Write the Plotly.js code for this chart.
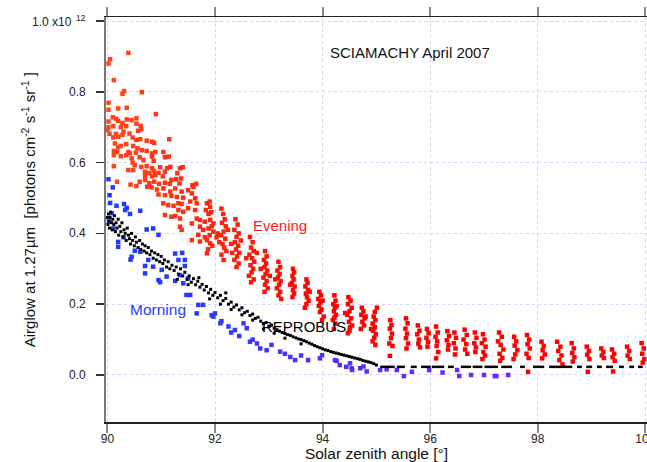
<!DOCTYPE html>
<html>
<head>
<meta charset="utf-8">
<script src="https://cdn.plot.ly/plotly-3.0.1.min.js"></script>
<style>html,body{margin:0;padding:0;background:#fff;}#chart{width:647px;height:462px;}</style>
</head>
<body>
<div id="chart"></div>
<script>
// Evening (red) observations: [solar zenith angle, airglow (x1e12)]
const eveningPoints = [
[90.39,0.910],[90.05,0.892],[90.02,0.880],[90.12,0.833],[90.31,0.802],[90.28,0.794],[90.64,0.799],[90.02,0.769],[90.02,0.749],[90.20,0.753],
[90.36,0.755],[90.90,0.737],[90.10,0.728],[90.16,0.724],[90.20,0.718],[90.02,0.716],[90.28,0.712],[90.36,0.722],[90.45,0.720],[90.54,0.725],
[90.02,0.700],[90.11,0.703],[90.25,0.700],[90.35,0.703],[90.54,0.710],[90.62,0.703],[90.00,0.692],[90.04,0.681],[90.16,0.681],[90.30,0.687],
[90.41,0.682],[90.57,0.690],[90.63,0.694],[90.11,0.671],[90.20,0.673],[90.28,0.678],[90.47,0.671],[90.54,0.664],[90.61,0.666],[90.73,0.662],
[90.83,0.659],[90.87,0.656],[91.15,0.666],[90.14,0.654],[90.20,0.643],[90.25,0.647],[90.35,0.652],[90.48,0.647],[90.56,0.640],[90.64,0.635],
[90.12,0.633],[90.18,0.630],[90.39,0.630],[90.42,0.626],[90.53,0.628],[90.73,0.633],[90.83,0.626],[90.89,0.630],[91.04,0.630],[90.12,0.621],
[90.25,0.618],[90.35,0.621],[90.45,0.612],[90.60,0.615],[90.83,0.617],[91.07,0.615],[91.14,0.617],[90.47,0.600],[90.67,0.607],[90.86,0.605],
[90.51,0.593],[90.63,0.588],[90.12,0.590],[90.39,0.579],[90.48,0.579],[90.73,0.590],[90.83,0.584],[90.98,0.587],[91.11,0.584],[91.17,0.588],
[91.35,0.584],[91.40,0.587],[90.70,0.574],[90.78,0.570],[90.86,0.577],[90.95,0.571],[91.07,0.574],[90.70,0.563],[90.83,0.561],[90.89,0.565],
[91.03,0.561],[91.30,0.570],[90.18,0.546],[90.43,0.538],[90.60,0.546],[90.70,0.551],[90.78,0.542],[90.87,0.546],[90.96,0.540],[91.07,0.543],
[91.16,0.540],[91.28,0.553],[91.37,0.555],[91.58,0.536],[91.65,0.540],[90.74,0.532],[91.19,0.551],[91.34,0.541],[90.54,0.534],[90.82,0.530],
[90.92,0.524],[91.04,0.527],[91.17,0.518],[91.26,0.527],[91.38,0.518],[90.95,0.510],[91.07,0.508],[91.19,0.506],[91.29,0.503],[91.41,0.501],
[91.50,0.522],[91.60,0.531],[91.57,0.513],[91.63,0.499],[91.04,0.485],[91.13,0.480],[91.23,0.478],[91.32,0.485],[91.38,0.483],[91.54,0.490],
[91.66,0.485],[91.32,0.466],[91.41,0.461],[91.50,0.471],[91.63,0.466],[91.85,0.485],[91.91,0.475],[91.83,0.466],[91.07,0.452],[91.19,0.447],
[91.26,0.449],[91.35,0.442],[91.35,0.419],[91.38,0.410],[91.57,0.428],[91.66,0.442],[91.72,0.438],[91.81,0.433],[91.91,0.438],[91.97,0.428],
[91.72,0.419],[91.78,0.410],[91.88,0.414],[91.97,0.405],[91.57,0.381],[91.69,0.396],[91.81,0.389],[91.72,0.377],[91.85,0.381],[91.91,0.372],
[92.03,0.389],[91.85,0.344],
[91.90,0.490],[91.93,0.460],[91.88,0.455],[91.94,0.420],[91.90,0.395],[91.95,0.365],[91.87,0.355],
[92.12,0.470],[92.15,0.455],[92.18,0.440],[92.13,0.430],[92.20,0.420],[92.16,0.405],[92.11,0.395],[92.19,0.385],[92.14,0.370],[92.17,0.360],
[92.21,0.350],[92.12,0.340],[92.16,0.325],[92.05,0.400],[92.08,0.375],[92.24,0.410],
[92.38,0.440],[92.42,0.425],[92.36,0.410],[92.44,0.400],[92.40,0.390],[92.37,0.375],[92.43,0.365],[92.39,0.355],[92.45,0.345],[92.41,0.335],
[92.36,0.325],[92.44,0.315],[92.40,0.305],[92.30,0.370],[92.48,0.380],[92.32,0.345],
[92.65,0.390],[92.70,0.375],[92.67,0.360],[92.72,0.350],[92.64,0.340],[92.69,0.330],[92.73,0.320],[92.66,0.310],[92.71,0.300],[92.68,0.290],
[92.63,0.280],[92.72,0.270],[92.67,0.262],[92.58,0.330],[92.78,0.345],
[92.93,0.350],[92.96,0.335],[92.91,0.325],[92.95,0.315],[92.92,0.305],[92.97,0.295],[92.94,0.285],[92.90,0.275],[92.96,0.265],[92.93,0.255],
[92.98,0.245],[92.92,0.235],[92.85,0.300],[93.02,0.280],
[93.18,0.320],[93.21,0.305],[93.16,0.295],[93.20,0.285],[93.17,0.275],[93.22,0.265],[93.19,0.255],[93.15,0.245],[93.21,0.235],[93.18,0.225],
[93.23,0.215],[93.12,0.270],
[93.45,0.300],[93.47,0.290],[93.44,0.280],[93.46,0.270],[93.43,0.260],[93.48,0.250],[93.45,0.240],[93.47,0.230],[93.44,0.220],[93.40,0.255],
[93.70,0.270],[93.72,0.260],[93.68,0.250],[93.73,0.240],[93.69,0.230],[93.71,0.220],[93.74,0.210],[93.70,0.200],[93.67,0.190],[93.76,0.235],
[93.94,0.235],[93.97,0.225],[93.92,0.215],[93.96,0.205],[93.93,0.195],[93.98,0.185],[93.95,0.178],[94.00,0.210],[94.02,0.165],[93.99,0.155],
[94.22,0.225],[94.24,0.210],[94.20,0.200],[94.23,0.190],[94.21,0.180],[94.25,0.170],[94.22,0.162],[94.19,0.155],[94.26,0.195],[94.24,0.145],[94.21,0.130],
[94.48,0.220],[94.52,0.210],[94.47,0.200],[94.54,0.190],[94.50,0.180],[94.46,0.170],[94.53,0.160],[94.49,0.150],[94.55,0.140],[94.51,0.135],
[94.42,0.175],[94.50,0.125],[94.47,0.118],
[94.73,0.190],[94.76,0.180],[94.72,0.170],[94.78,0.160],[94.74,0.150],[94.77,0.140],[94.71,0.130],[94.80,0.165],
[94.95,0.165],[94.98,0.155],[94.93,0.145],[94.97,0.135],[94.94,0.125],[94.99,0.115],[94.96,0.105],[94.93,0.095],[94.98,0.085],[94.90,0.130],
[95.01,0.190],[94.97,0.178],
[95.26,0.155],[95.28,0.141],[95.25,0.131],[95.29,0.117],[95.27,0.104],[95.24,0.089],[95.30,0.082],[95.25,0.054],
[95.55,0.160],[95.58,0.146],[95.54,0.131],[95.57,0.117],[95.55,0.104],[95.59,0.089],[95.56,0.075],
[95.77,0.140],[95.80,0.125],[95.76,0.115],[95.79,0.100],[95.78,0.088],[95.81,0.078],
[95.94,0.130],[95.97,0.118],[95.93,0.105],[95.96,0.093],[95.95,0.080],
[96.11,0.137],[96.14,0.120],[96.10,0.108],[96.13,0.095],[96.12,0.082],[96.15,0.065],[96.11,0.047],
[96.32,0.124],[96.35,0.110],[96.31,0.098],[96.34,0.085],[96.33,0.072],
[96.45,0.120],[96.48,0.105],[96.44,0.090],[96.47,0.075],[96.46,0.058],
[96.64,0.128],[96.68,0.113],[96.62,0.100],[96.67,0.087],[96.65,0.072],[96.69,0.060],
[96.83,0.120],[96.86,0.105],[96.82,0.090],[96.85,0.078],[96.84,0.065],
[96.98,0.115],[97.01,0.100],[96.96,0.090],[97.03,0.080],[96.99,0.065],[97.02,0.055],[96.97,0.045],
[97.28,0.120],[97.33,0.108],[97.26,0.095],[97.31,0.085],[97.36,0.072],[97.29,0.060],[97.34,0.048],[97.30,0.040],
[97.56,0.108],[97.60,0.095],[97.57,0.083],[97.62,0.070],[97.58,0.058],[97.55,0.045],
[97.80,0.113],[97.84,0.100],[97.81,0.087],[97.85,0.075],[97.79,0.060],[97.83,0.048],[97.82,0.009],
[98.07,0.094],[98.11,0.082],[98.09,0.070],[98.13,0.058],[98.08,0.047],
[98.36,0.094],[98.42,0.080],[98.38,0.068],[98.44,0.055],[98.40,0.042],[98.46,0.030],
[98.63,0.090],[98.67,0.075],[98.64,0.062],[98.68,0.050],[98.65,0.038],
[98.91,0.080],[98.95,0.068],[98.92,0.057],[98.96,0.045],[98.93,0.009],
[99.18,0.075],[99.22,0.065],[99.19,0.055],[99.23,0.048],
[99.38,0.072],[99.42,0.060],[99.39,0.050],[99.43,0.040],[99.40,0.010],
[99.66,0.080],[99.70,0.068],[99.67,0.055],[99.71,0.045],
[99.93,0.090],[99.97,0.075],[99.94,0.060],[99.98,0.045],[99.95,0.035]
];

// Morning (blue) observations
const morningPoints = [
[90.02,0.553],[90.10,0.530],[90.04,0.508],[90.05,0.486],[90.17,0.478],[90.31,0.483],[90.36,0.472],[90.08,0.457],[90.33,0.466],[90.42,0.455],
[90.03,0.433],[90.11,0.414],[90.61,0.464],[90.73,0.411],[90.85,0.414],[90.20,0.376],[90.30,0.389],[90.20,0.362],[90.51,0.351],[90.61,0.348],
[90.95,0.396],[90.45,0.334],[90.43,0.326],[90.76,0.325],[90.85,0.306],[90.70,0.308],[91.01,0.297],[90.70,0.287],[91.10,0.278],[90.95,0.268],
[90.98,0.262],[91.26,0.343],[91.32,0.325],[91.44,0.325],[91.26,0.266],[91.35,0.282],[91.44,0.308],[91.50,0.273],[91.41,0.259],[91.39,0.345],
[91.47,0.226],[91.54,0.226],[91.69,0.198],[91.66,0.174],[91.78,0.198],[91.94,0.169],[92.00,0.174],[91.97,0.165],[92.10,0.146],[92.12,0.152],
[92.25,0.137],[92.37,0.127],[92.30,0.120],[92.45,0.110],[92.53,0.146],[92.59,0.132],[92.65,0.094],[92.70,0.100],[92.78,0.089],[92.84,0.075],
[92.96,0.070],[93.05,0.085],[93.21,0.066],[93.30,0.060],[93.40,0.051],[93.49,0.042],[93.60,0.055],[93.73,0.042],[93.95,0.047],[93.99,0.056],
[94.23,0.042],[94.26,0.040],[94.32,0.028],[94.44,0.023],[94.51,0.033],[94.54,0.019],[94.55,0.014],[94.70,0.019],[94.76,0.024],[94.82,0.010],
[95.07,0.014],[95.19,0.016],[95.38,0.014],[95.51,-0.003],[95.66,0.009],[95.98,0.014],[96.23,0.007],[96.50,0.014],[96.54,-0.003],[96.76,0.000],
[97.00,0.000],[97.20,-0.003],[97.23,-0.003],[97.45,0.000]
];

// REPROBUS model (black) points
const reprobusPoints = [
[90.00,0.445],[90.01,0.425],[90.02,0.455],[90.03,0.435],[90.04,0.415],[90.05,0.445],[90.06,0.460],[90.08,0.430],[90.09,0.410],[90.10,0.440],
[90.12,0.425],[90.13,0.450],[90.15,0.405],[90.16,0.430],[90.18,0.415],[90.20,0.440],[90.21,0.395],[90.23,0.420],[90.25,0.405],[90.27,0.430],
[90.29,0.390],[90.31,0.410],[90.33,0.400],[90.35,0.380],[90.37,0.415],[90.39,0.395],[90.41,0.385],[90.43,0.370],[90.45,0.400],[90.47,0.380],
[90.50,0.365],[90.52,0.390],[90.54,0.375],[90.57,0.360],[90.60,0.380],[90.62,0.355],[90.65,0.370],[90.68,0.350],[90.70,0.365],[90.73,0.345],
[90.76,0.360],[90.79,0.340],[90.82,0.350],[90.85,0.330],[90.88,0.345],[90.91,0.325],[90.94,0.340],[90.97,0.320],[91.00,0.335],[91.03,0.315],
[91.06,0.325],[91.10,0.305],[91.13,0.320],[91.16,0.300],[91.20,0.310],[91.24,0.295],[91.28,0.305],[91.32,0.285],[91.36,0.300],[91.40,0.280],
[91.44,0.290],[91.48,0.270],[91.52,0.280],[91.56,0.262],[91.60,0.272],[91.64,0.255],[91.68,0.265],[91.72,0.248],[91.76,0.256],[91.80,0.240],
[91.84,0.250],[91.88,0.232],[91.92,0.242],[91.96,0.225],[92.00,0.233],[92.05,0.218],[92.10,0.225],[92.15,0.210],[92.20,0.216],[92.25,0.200],
[92.30,0.206],[92.35,0.192],[92.40,0.198],[92.45,0.184],[92.50,0.190],[92.55,0.176],[92.60,0.180],[92.65,0.168],[92.70,0.172],[92.75,0.160],
[92.80,0.163],[92.85,0.152],[92.90,0.145],[92.95,0.148],[93.00,0.138],[93.05,0.141],[93.10,0.132],[93.15,0.128],[93.20,0.124],[93.25,0.120],
[93.30,0.117],[93.35,0.114],[93.40,0.112],[93.45,0.108],[93.50,0.105],[93.55,0.102],[93.60,0.100],[93.65,0.097],[93.70,0.094],[93.75,0.090],
[93.80,0.087],[93.85,0.083],[93.90,0.080],[93.95,0.077],[94.00,0.074],[94.05,0.071],[94.10,0.069],[94.15,0.066],[94.20,0.064],[94.25,0.062],
[94.30,0.060],[94.35,0.058],[94.40,0.056],[94.45,0.054],[94.50,0.052],[94.55,0.050],[94.60,0.048],[94.65,0.046],[94.70,0.044],[94.75,0.041],
[94.80,0.039],[94.85,0.037],[94.90,0.035],[94.95,0.032],[95.00,0.028],
[91.30,0.270],[91.50,0.255],[91.90,0.215],[92.10,0.200],[92.30,0.185],[92.50,0.170],[92.70,0.155],[92.90,0.130],[93.10,0.118],[93.30,0.104],
[93.60,0.088],[92.20,0.232],[91.70,0.275]
];

// REPROBUS flat night-time segments (start, end) beyond 95 deg, value
const reprobusFlatStart = [95.07,95.38,95.64,95.83,96.03,96.33,96.57,96.79,97.01,97.32,97.67,97.91,98.21,98.73,98.90,99.10,99.27,99.51,99.70,99.86];
const reprobusFlatEnd   = [95.34,95.53,95.75,96.01,96.26,96.44,96.76,96.97,97.26,97.52,97.76,98.12,98.64,98.82,99.01,99.19,99.40,99.60,99.79,99.95];
const reprobusFlatValue = 0.023;

const xTicks = [90,92,94,96,98,100];
const yTicks = [0,0.2,0.4,0.6,0.8,1.0];
const yTickText = ['0.0','0.2','0.4','0.6','0.8','1.0 x10<sup>\u00a0\u00a012</sup>'];

function redColor(s){const t=Math.min(Math.max((s-90)/4,0),1);return 'rgb(255,'+Math.round(70*(1-t))+','+Math.round(30*(1-t))+')';}
function blueColor(s){const t=Math.min(Math.max((s-91)/5,0),1);return 'rgb('+Math.round(30+75*t)+','+Math.round(60-20*t)+',255)';}

const flatX=[], flatY=[];
reprobusFlatStart.forEach((s,i)=>{flatX.push(s,reprobusFlatEnd[i],null);flatY.push(reprobusFlatValue,reprobusFlatValue,null);});

const font = 'Liberation Sans, Arial, sans-serif';
const traces = [
 {x:eveningPoints.map(p=>p[0]), y:eveningPoints.map(p=>p[1]), type:'scatter', mode:'markers', name:'Evening',
  marker:{symbol:'square', size:4.5, color:eveningPoints.map(p=>redColor(p[0])), line:{width:0}}},
 {x:morningPoints.map(p=>p[0]), y:morningPoints.map(p=>p[1]), type:'scatter', mode:'markers', name:'Morning',
  marker:{symbol:'square', size:4.5, color:morningPoints.map(p=>blueColor(p[0])), line:{width:0}}},
 {x:reprobusPoints.map(p=>p[0]), y:reprobusPoints.map(p=>p[1]), type:'scatter', mode:'markers', name:'REPROBUS',
  marker:{symbol:'square', size:3, color:'#000', line:{width:0}}},
 {x:flatX, y:flatY, type:'scatter', mode:'lines', name:'REPROBUS night', line:{color:'#000', width:2.5}, connectgaps:false}
];

// y tick labels placed as text just left of the tick marks
const yLabelAnnotations = yTicks.map((v,i)=>({x:-0.033, y:v, xref:'paper', yref:'y', xanchor:'right', yanchor:'middle',
  text:yTickText[i], showarrow:false, font:{family:font,size:12,color:'#222'}}));

const layout = {
 width:647, height:462, showlegend:false,
 paper_bgcolor:'#fff', plot_bgcolor:'#fff',
 margin:{l:106, r:0, t:17, b:40},
 font:{family:font, size:12, color:'#222'},
 xaxis:{range:[89.974,100.03], tickvals:xTicks, ticktext:xTicks.map(String), ticks:'outside', ticklen:9, tickwidth:2, tickcolor:'#888',
   ticklabeloverflow:'allow', ticklabelstandoff:-4,
   showline:true, linecolor:'#222', linewidth:1.5, mirror:'ticks', showgrid:true, gridcolor:'#d4d4f7', griddash:'dot', gridwidth:1, zeroline:false,
   tickfont:{family:font,size:12,color:'#222'}, automargin:false,
   title:{text:'Solar zenith angle [°]', font:{family:font,size:15.5,color:'#111'}, standoff:2}},
 yaxis:{range:[-0.1328,1.0113], tickvals:yTicks, showticklabels:false, ticks:'outside', ticklen:8, tickwidth:1.5, tickcolor:'#333',
   showline:true, linecolor:'#777', linewidth:2, mirror:false, showgrid:true, gridcolor:'#d4d4f7', griddash:'dot', gridwidth:1, zeroline:false,
   automargin:false},
 annotations:yLabelAnnotations.concat([
  {x:-0.144, y:0.523, xref:'paper', yref:'paper', xanchor:'center', yanchor:'middle', textangle:-90,
   text:'Airglow at 1.27µm  [photons cm<sup>-2</sup> s<sup>-1</sup> sr<sup>-1</sup> ]', showarrow:false, font:{family:font,size:15,color:'#111'}},
  {x:95.62, y:0.912, xref:'x', yref:'y', text:'SCIAMACHY April 2007', showarrow:false, font:{family:font,size:15,color:'#111'}},
  {x:93.21, y:0.421, xref:'x', yref:'y', text:'Evening', showarrow:false, font:{family:font,size:15,color:'#ff1a1a'}},
  {x:90.94, y:0.184, xref:'x', yref:'y', text:'Morning', showarrow:false, font:{family:font,size:15.5,color:'#1f3cff'}},
  {x:93.65, y:0.138, xref:'x', yref:'y', text:'REPROBUS', showarrow:false, font:{family:font,size:15,color:'#000'}}
 ])
};
Plotly.newPlot('chart', traces, layout, {staticPlot:true, displayModeBar:false});
</script>
</body>
</html>
